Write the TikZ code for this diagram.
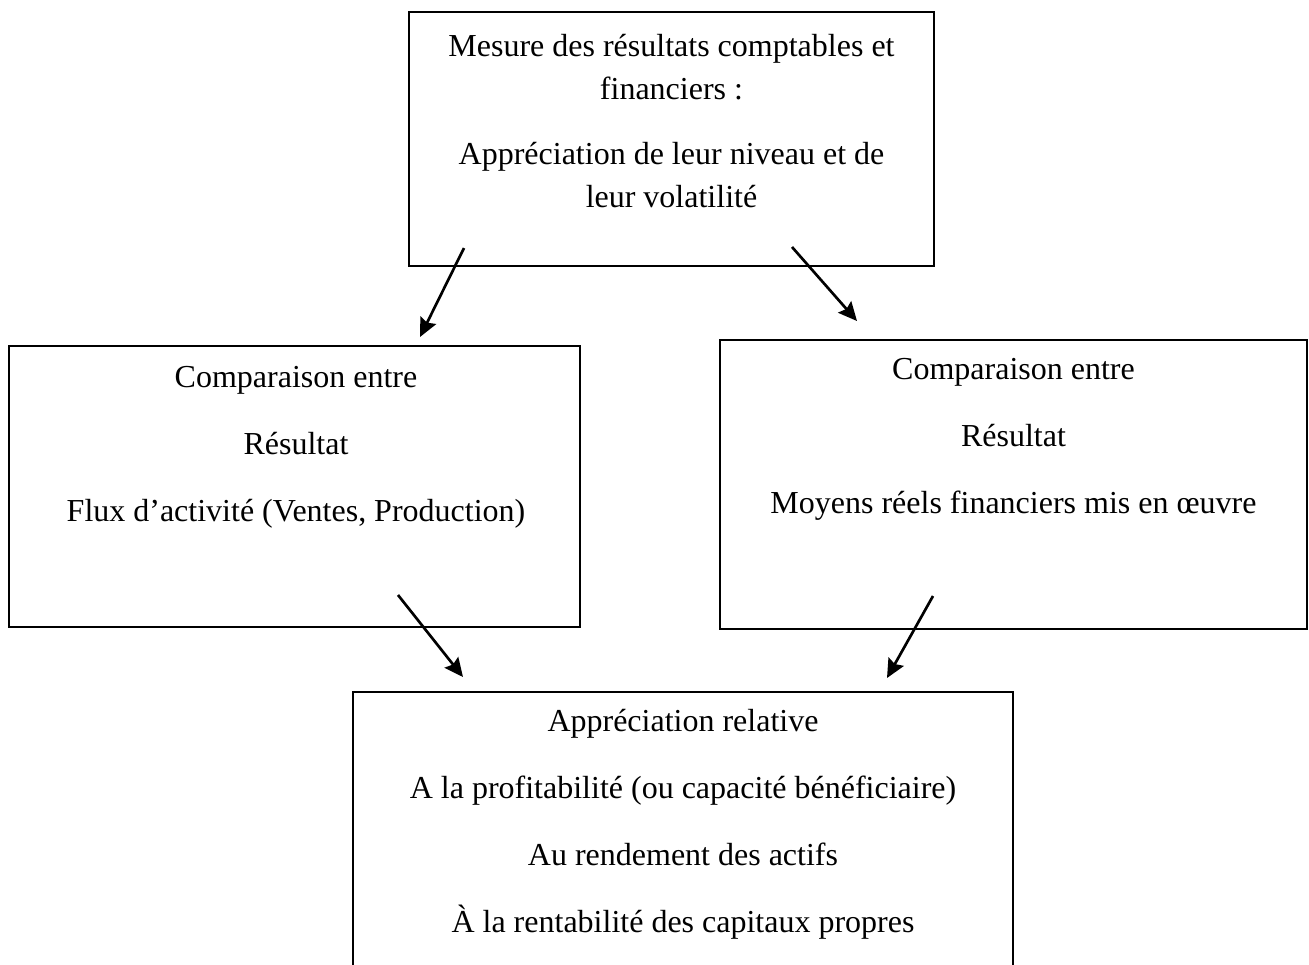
\documentclass[tikz,border=0pt]{standalone}
\usepackage{fontspec}
\setmainfont{Liberation Serif}
\usepackage{tikz}
\tikzstyle{block}=[draw, line width=1pt, inner sep=0pt]
\tikzstyle{txt}=[align=center, inner sep=0pt, font=\fontsize{12}{16.1}\selectfont]
\tikzstyle{arrow}=[line width=1pt,-{Stealth[length=7pt,width=6.5pt,inset=1pt]}]
\usetikzlibrary{arrows.meta,positioning}
\begin{document}
\begin{tikzpicture}[x=0.375pt,y=-0.375pt]
\clip (0,0) rectangle (1309,964);
% boxes
\node (top) [block, minimum width=525*0.375pt, minimum height=254*0.375pt] at (671.5,139) {};
\node (left) [block, minimum width=571*0.375pt, minimum height=281*0.375pt] at (294.5,486.5) {};
\node (right) [block, minimum width=587*0.375pt, minimum height=289*0.375pt] at (1013.5,484.5) {};
\node (bottom) [block, minimum width=660*0.375pt, minimum height=308*0.375pt] at (683,846) {};
% texts
\node (toptxt) [txt, below=8.6pt of top.north] {Mesure des résultats comptables et\\financiers :\\[8.5pt]
  Appréciation de leur niveau et de\\leur volatilité};
\node (lefttxt) [txt, below=7.9pt of left.north, xshift=1.5*0.375pt] {Comparaison entre\\[9pt]Résultat\\[9pt]
  Flux d’activité (Ventes, Production)};
\node (righttxt) [txt, below=7.1pt of right.north] {Comparaison entre\\[9pt]Résultat\\[9pt]
  Moyens réels financiers mis en œuvre};
\node (bottomtxt) [txt, below=6.8pt of bottom.north] {Appréciation relative\\[9pt]
  A la profitabilité (ou capacité bénéficiaire)\\[9pt]Au rendement des actifs\\[9pt]
  À la rentabilité des capitaux propres};
% arrow ends
\coordinate (a1) at (464,248);
\coordinate (b1) at (420,337);
\coordinate (a2) at (792,247);
\coordinate (b2) at (857,321);
\coordinate (a3) at (398,595);
\coordinate (b3) at (463,677);
\coordinate (a4) at (933,596);
\coordinate (b4) at (887,678);
\draw[arrow] (a1)--(b1);
\draw[arrow] (a2)--(b2);
\draw[arrow] (a3)--(b3);
\draw[arrow] (a4)--(b4);
\end{tikzpicture}
\end{document}
